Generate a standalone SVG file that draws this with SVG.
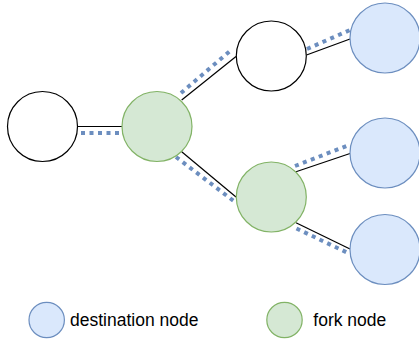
<svg xmlns="http://www.w3.org/2000/svg" width="419" height="341" viewBox="0 0 419 341">
<style>
.plain{fill:#ffffff;stroke:#000000;stroke-width:1.2}
.dest{fill:#dae8fc;stroke:#6c8ebf;stroke-width:1.2}
.fork{fill:#d5e8d4;stroke:#82b366;stroke-width:1.2}
.solid{stroke:#000000;stroke-width:1.2;fill:none}
.dot{stroke:#6c8ebf;stroke-width:4;stroke-dasharray:4 4.5;fill:none}
.lbl{font-family:"Liberation Sans",Arial,sans-serif;font-size:17.5px;fill:#000000}
</style>
<rect width="419" height="341" fill="#ffffff"/>
<g id="connectors">
<line class="solid" x1="77.5" y1="126.5" x2="122" y2="126.5"/>
<line class="dot" x1="81" y1="133" x2="122" y2="133"/>
<line class="solid" x1="181.7" y1="100" x2="236" y2="56.5"/>
<line class="dot" x1="181" y1="93" x2="230" y2="51"/>
<line class="solid" x1="306.5" y1="55" x2="350" y2="39"/>
<line class="dot" x1="307" y1="49" x2="350" y2="30"/>
<line class="solid" x1="181.7" y1="151.7" x2="236" y2="197"/>
<line class="dot" x1="176" y1="157" x2="235" y2="202"/>
<line class="solid" x1="296" y1="171.7" x2="350" y2="153.5"/>
<line class="dot" x1="295" y1="166" x2="349" y2="145"/>
<line class="solid" x1="296" y1="222.7" x2="350" y2="249"/>
<line class="dot" x1="296.5" y1="228.5" x2="349" y2="253.5"/>
</g>
<g id="node-a"><circle class="plain" cx="42.5" cy="126.5" r="35"/></g>
<g id="node-fork1"><circle class="fork" cx="157" cy="126.5" r="35"/></g>
<g id="node-b"><circle class="plain" cx="271.3" cy="56" r="35"/></g>
<g id="node-fork2"><circle class="fork" cx="271.3" cy="197" r="35"/></g>
<g id="node-dest1"><circle class="dest" cx="385" cy="38" r="35"/></g>
<g id="node-dest2"><circle class="dest" cx="385" cy="153" r="35"/></g>
<g id="node-dest3"><circle class="dest" cx="385" cy="249.5" r="35"/></g>
<g id="legend-dest">
<circle class="dest" cx="46.7" cy="320" r="17.7"/>
<text class="lbl" x="70" y="326">destination node</text>
</g>
<g id="legend-fork">
<circle class="fork" cx="284.5" cy="320" r="17.7"/>
<text class="lbl" x="313.3" y="326">fork node</text>
</g>
</svg>
